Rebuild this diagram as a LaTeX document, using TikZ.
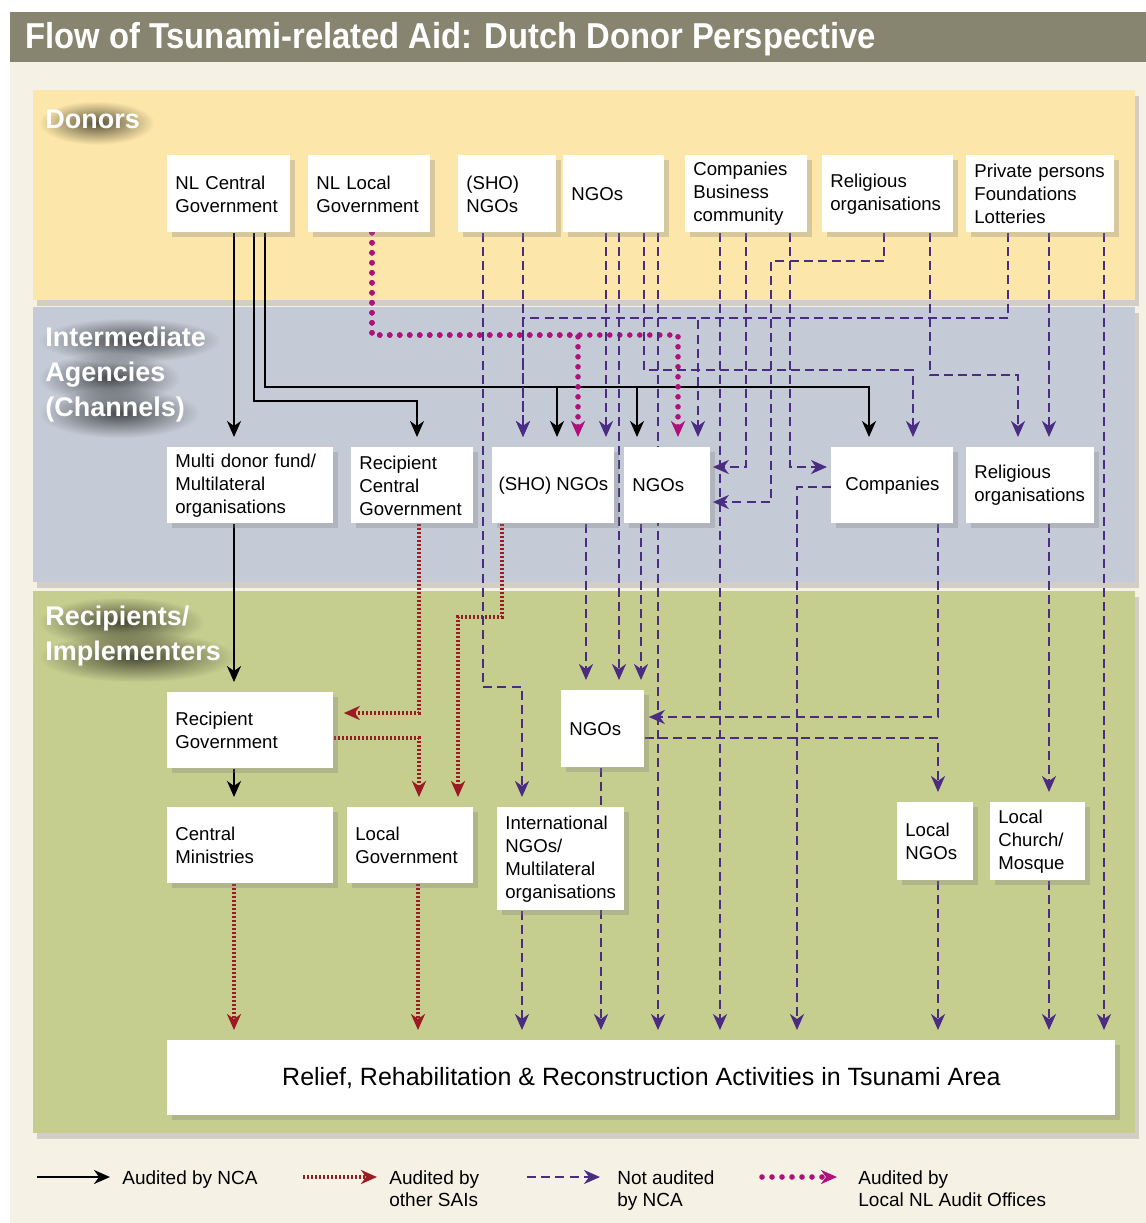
\documentclass[tikz,border=0pt]{standalone}
\usepackage{fontspec}
\setmainfont{Liberation Sans}
\usepackage{graphicx}
\usetikzlibrary{arrows.meta, shadows, fadings}

\definecolor{barcol}{HTML}{87846F}
\definecolor{pagecol}{HTML}{F5F1E5}
\definecolor{donorcol}{HTML}{FCE6A9}
\definecolor{interncol}{HTML}{C5CBD6}
\definecolor{recipcol}{HTML}{C5CD8F}
\definecolor{saicol}{HTML}{9B1B22}
\definecolor{notcol}{HTML}{4A2D82}
\definecolor{localcol}{HTML}{B0107C}

\pgfdeclarelayer{back}
\pgfdeclarelayer{lines}
\pgfsetlayers{back,lines,main}

\tikzfading[name=fuzzy, inner color=transparent!20, outer color=transparent!100]

\tikzset{
  box/.style={fill=white, anchor=north west, align=left, inner xsep=4pt, inner ysep=2pt,
    font=\fontsize{9.3}{11.5}\selectfont,
    drop shadow={shadow xshift=2.5pt, shadow yshift=-2.5pt, opacity=0.3}},
  cbox/.style={box, align=center},
  band/.style={drop shadow={shadow xshift=2pt, shadow yshift=-3pt, opacity=0.3}},
  bandlbl/.style={anchor=base west, inner sep=0pt, text=white,
    font=\bfseries\fontsize{13.5}{17.5}\selectfont},
  flowtip/.style={-{Stealth[length=8pt, width=7pt, inset=2.5pt]}},
  nca/.style={flowtip, draw=black, line width=0.9pt, shorten >=5pt},
  sai/.style={flowtip, draw=saicol, line width=1.6pt, dash pattern=on 1.1pt off 0.9pt, shorten >=5pt},
  notnca/.style={flowtip, draw=notcol, line width=1.05pt, dash pattern=on 4.5pt off 2.6pt, shorten >=5pt},
  localnl/.style={flowtip, draw=localcol, line width=2.8pt, line cap=round, dash pattern=on 0pt off 5pt, shorten >=5pt},
  legtext/.style={anchor=north west, inner sep=0pt, align=left, font=\fontsize{9.5}{11}\selectfont}
}

\begin{document}
\begin{tikzpicture}[x=0.5pt, y=-0.5pt]
\useasboundingbox (0,0) rectangle (1146,1223);

\begin{pgfonlayer}{back}
\fill[white] (0,0) rectangle (1146,1223);
\fill[pagecol] (10,62) rectangle (1146,1223);
\fill[barcol] (10,12) rectangle (1146,62);
% bands
\fill[donorcol, band] (33,90) rectangle (1135,300);
\fill[interncol, band] (33,307) rectangle (1135,582);
\fill[recipcol, band] (33,591) rectangle (1135,1133);
\end{pgfonlayer}

\node[anchor=base west, inner sep=0pt, text=white, font=\bfseries\fontsize{18}{20}\selectfont] (title) at (25,48)
  {\scalebox{0.91}[1]{Flow of Tsunami-related Aid: Dutch Donor Perspective}};

% band labels
\node[bandlbl] (ldon) at (45,128) {Donors};
\node[bandlbl] (lint1) at (45,346) {Intermediate};
\node[bandlbl] (lint2) at (45,381) {Agencies};
\node[bandlbl] (lint3) at (45,416) {(Channels)};
\node[bandlbl] (lrec1) at (45,625) {Recipients/};
\node[bandlbl] (lrec2) at (45,660) {Implementers};
\begin{pgfonlayer}{back}
\foreach \nd in {ldon, lint1, lint2, lint3, lrec1, lrec2}
  \fill[black, opacity=0.8, path fading=fuzzy]
    ([shift={(-6,-8)}]\nd.north west) rectangle ([shift={(14,16)}]\nd.south east);
\end{pgfonlayer}

% donors
\node[box, text width=53.5pt, minimum height=38.5pt] (dcent) at (167,155) {NL Central\\Government};
\node[box, text width=53pt, minimum height=38.5pt] (dlocal) at (308,155) {NL Local\\Government};
\node[box, text width=41pt, minimum height=38.5pt] (dsho) at (458,155) {(SHO)\\NGOs};
\node[box, text width=42.5pt, minimum height=38.5pt] (dngo) at (563,155) {NGOs};
\node[box, text width=53pt, minimum height=38.5pt] (dcomp) at (685,155) {Companies\\Business\\community};
\node[box, text width=57.5pt, minimum height=38.5pt] (drel) at (822,155) {Religious\\organisations};
\node[box, text width=66pt, minimum height=38.5pt] (dpriv) at (966,155) {Private persons\\Foundations\\Lotteries};

% intermediate agencies
\node[box, text width=75pt, minimum height=38pt] (imdf) at (167,447) {Multi donor fund/\\Multilateral\\organisations};
\node[box, text width=53pt, minimum height=38pt] (icent) at (351,447) {Recipient\\Central\\Government};
\node[cbox, inner xsep=2pt, minimum width=61pt, minimum height=38pt] (isho) at (492,447) {(SHO) NGOs};
\node[box, text width=35pt, minimum height=38pt] (ingo) at (624,447) {NGOs};
\node[cbox, minimum width=61pt, minimum height=38pt] (icomp) at (831,447) {Companies};
\node[box, text width=56pt, minimum height=38pt] (irel) at (966,447) {Religious\\organisations};

% recipients
\node[box, text width=75pt, minimum height=38pt] (rgov) at (167,692) {Recipient\\Government};
\node[box, text width=33.5pt, minimum height=38.5pt] (rngo) at (561,690) {NGOs};
\node[box, text width=75pt, minimum height=38pt] (rcent) at (167,807) {Central\\Ministries};
\node[box, text width=55pt, minimum height=38pt] (rlocal) at (347,807) {Local\\Government};
\node[box, text width=55.5pt, minimum height=51.5pt] (rintl) at (497,807) {International\\NGOs/\\Multilateral\\organisations};
\node[box, text width=30pt, minimum height=39pt] (rlngo) at (897,802) {Local\\NGOs};
\node[box, text width=39.5pt, minimum height=39pt] (rchurch) at (990,802) {Local\\Church/\\Mosque};
\node[cbox, minimum width=474pt, minimum height=37.5pt, font=\fontsize{12.5}{14}\selectfont] (relief) at (167,1040)
  {Relief, Rehabilitation \& Reconstruction Activities in Tsunami Area};

\begin{pgfonlayer}{lines}
% audited by NCA
\draw[nca] (dcent.south -| 234,0) -- (imdf.north -| 234,0);
\draw[nca] (dcent.south -| 254,0) |- (417,401) -- (icent.north -| 417,0);
\foreach \xx/\nd in {557/isho, 637/ingo, 869/icomp}
  \draw[nca] (dcent.south -| 265,0) |- (\xx,387) -- (\nd.north -| \xx,0);
\draw[nca] (imdf.south -| 234,0) -- (rgov.north -| 234,0);
\draw[nca] (rgov.south -| 234,0) -- (rcent.north -| 234,0);
% local NL audit offices
\foreach \xx/\nd in {578/isho, 678/ingo}
  \draw[localnl] (dlocal.south -| 372,0) |- (\xx,335) -- (\nd.north -| \xx,0);
% other SAIs
\draw[sai] (icent.south -| 419,0) |- (rgov.east |- 0,713);
\draw[sai] (rgov.east |- 0,738) -| (rlocal.north -| 419,0);
\draw[sai] (isho.south -| 502,0) |- (458,617) -- (rlocal.north -| 458,0);
\draw[sai] (rcent.south -| 234,0) -- (relief.north -| 234,0);
\draw[sai] (rlocal.south -| 418,0) -- (relief.north -| 418,0);
% not audited by NCA
\draw[notnca] (dsho.south -| 483,0) |- (522,687) -- (rintl.north -| 522,0);
\draw[notnca] (dsho.south -| 523,0) -- (isho.north -| 523,0);
\foreach \xx/\nd in {523/isho, 698/ingo}
  \draw[notnca] (dpriv.south -| 1008,0) |- (\xx,318) -- (\nd.north -| \xx,0);
\draw[notnca] (dngo.south -| 606,0) -- (isho.north -| 606,0);
\draw[notnca] (dngo.south -| 619,0) -- (rngo.north -| 619,0);
\draw[notnca] (dngo.south -| 644,0) |- (913,370) -- (icomp.north -| 913,0);
\draw[notnca] (dngo.south -| 658,0) -- (relief.north -| 658,0);
\draw[notnca] (dcomp.south -| 720,0) -- (relief.north -| 720,0);
\draw[notnca, shorten >=1pt] (dcomp.south -| 746,0) |- (ingo.east |- 0,467);
\draw[notnca, shorten >=1pt] (drel.south -| 884,0) |- (771,261) |- (ingo.east |- 0,502);
\draw[notnca, shorten >=2pt] (dcomp.south -| 790,0) |- (icomp.west |- 0,467);
\draw[notnca] (icomp.west |- 0,487) -| (relief.north -| 797,0);
\draw[notnca] (drel.south -| 930,0) |- (1018,375) -- (irel.north -| 1018,0);
\draw[notnca] (dpriv.south -| 1049,0) -- (irel.north -| 1049,0);
\draw[notnca] (dpriv.south -| 1104,0) -- (relief.north -| 1104,0);
\draw[notnca] (isho.south -| 586,0) -- (rngo.north -| 586,0);
\draw[notnca] (ingo.south -| 641,0) -- (rngo.north -| 641,0);
\draw[notnca, shorten >=2pt] (icomp.south -| 938,0) |- (rngo.east |- 0,717);
\draw[notnca] (rngo.east |- 0,738) -| (rlngo.north -| 938,0);
\draw[notnca] (irel.south -| 1049,0) -- (rchurch.north -| 1049,0);
\draw[notnca] (rngo.south -| 601,0) -- (relief.north -| 601,0);
\draw[notnca] (rintl.south -| 522,0) -- (relief.north -| 522,0);
\draw[notnca] (rlngo.south -| 938,0) -- (relief.north -| 938,0);
\draw[notnca] (rchurch.south -| 1049,0) -- (relief.north -| 1049,0);
\end{pgfonlayer}

% legend
\coordinate (k1a) at (37,1177);  \coordinate (k1b) at (110,1177);
\coordinate (k2a) at (303,1177); \coordinate (k2b) at (377,1177);
\coordinate (k3a) at (527,1177); \coordinate (k3b) at (600,1177);
\coordinate (k4a) at (762,1177); \coordinate (k4b) at (837,1177);
\draw[nca, shorten >=0pt] (k1a) -- (k1b);
\draw[sai, shorten >=0pt] (k2a) -- (k2b);
\draw[notnca, shorten >=0pt] (k3a) -- (k3b);
\draw[localnl, shorten >=0pt] (k4a) -- (k4b);
\node[legtext] (k1) at (122,1170) {Audited by NCA};
\node[legtext] (k2) at (389,1170) {Audited by\\other SAIs};
\node[legtext] (k3) at (617,1170) {Not audited\\by NCA};
\node[legtext] (k4) at (858,1170) {Audited by\\Local NL Audit Offices};
\end{tikzpicture}
\end{document}
